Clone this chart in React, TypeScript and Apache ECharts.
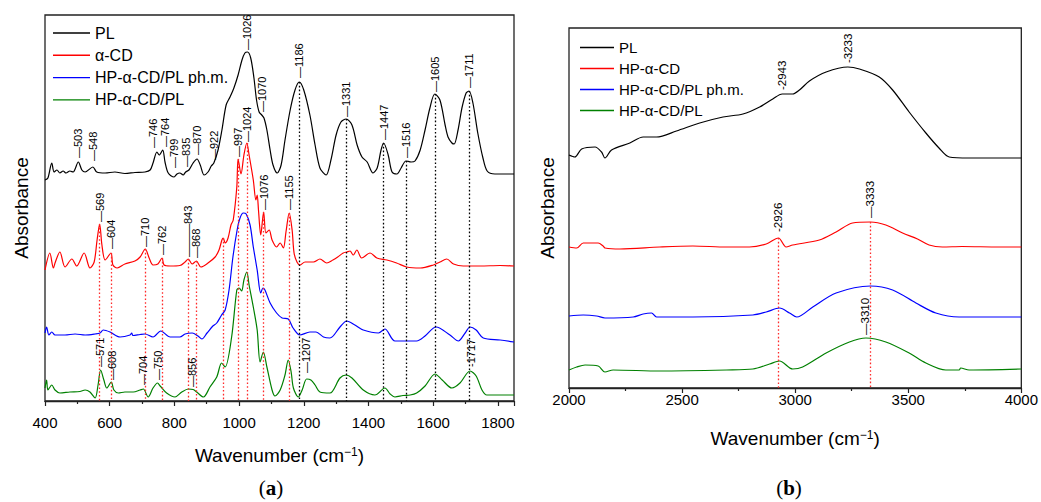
import { useEffect, useRef } from "react";
import * as echarts from "echarts";

// ---------- Panel (a): 400–1850 cm-1, absorbance in arbitrary offset units ----------
const plFingerprint: number[][] = [
  [400, 2.21], [409, 2.23], [421, 2.38], [428, 2.29], [437, 2.31], [446, 2.28], [456, 2.3], [465, 2.28],
  [477, 2.3], [487, 2.29], [503, 2.39], [514, 2.31], [524, 2.29], [548, 2.34], [560, 2.29], [586, 2.28],
  [616, 2.29], [647, 2.275], [678, 2.285], [709, 2.29], [725, 2.31], [734, 2.38], [746, 2.49], [753, 2.46],
  [764, 2.51], [771, 2.39], [781, 2.28], [799, 2.24], [808, 2.27], [817, 2.28], [827, 2.26], [835, 2.29],
  [845, 2.31], [858, 2.38], [870, 2.42], [880, 2.36], [892, 2.26], [904, 2.29], [914, 2.35], [922, 2.38],
  [935, 2.51], [947, 2.71], [960, 2.96], [972, 3.04], [984, 3.13], [997, 3.26], [1009, 3.41], [1018, 3.48],
  [1026, 3.49], [1036, 3.43], [1046, 3.23], [1054, 3.01], [1062, 2.89], [1070, 2.86], [1077, 2.83],
  [1086, 2.71], [1096, 2.51], [1105, 2.36], [1118, 2.28], [1130, 2.36], [1142, 2.61], [1158, 2.91],
  [1173, 3.11], [1186, 3.19], [1200, 3.11], [1219, 2.86], [1235, 2.56], [1250, 2.33], [1269, 2.26],
  [1284, 2.41], [1300, 2.66], [1315, 2.79], [1331, 2.82], [1349, 2.76], [1365, 2.56], [1380, 2.44],
  [1396, 2.39], [1414, 2.28], [1427, 2.33], [1439, 2.51], [1447, 2.58], [1461, 2.46], [1473, 2.29],
  [1488, 2.27], [1501, 2.33], [1516, 2.4], [1532, 2.39], [1544, 2.4], [1560, 2.51], [1575, 2.71],
  [1590, 2.93], [1605, 3.07], [1621, 3.01], [1637, 2.76], [1646, 2.64], [1658, 2.58], [1665, 2.57],
  [1677, 2.71], [1689, 2.93], [1702, 3.08], [1711, 3.1], [1723, 2.98], [1738, 2.68], [1754, 2.43],
  [1767, 2.3], [1791, 2.27], [1850, 2.27],
];

const alphaCdFingerprint: number[][] = [
  [400, 1.31], [415, 1.48], [426, 1.33], [431, 1.38], [446, 1.49], [462, 1.34], [483, 1.42], [498, 1.35],
  [521, 1.48], [539, 1.33], [552, 1.39], [561, 1.61], [569, 1.77], [576, 1.56], [586, 1.41], [604, 1.48],
  [610, 1.36], [623, 1.33], [647, 1.37], [678, 1.4], [694, 1.44], [710, 1.52], [722, 1.43], [734, 1.36],
  [749, 1.37], [762, 1.43], [768, 1.36], [787, 1.35], [817, 1.355], [833, 1.39], [843, 1.42], [855, 1.37],
  [868, 1.4], [882, 1.34], [904, 1.38], [926, 1.44], [938, 1.51], [947, 1.61], [951, 1.63], [957, 1.58],
  [966, 1.63], [975, 1.76], [982, 1.81], [993, 2.14], [997, 2.42], [1006, 2.27], [1015, 2.46],
  [1024, 2.58], [1031, 2.46], [1044, 2.21], [1052, 2.01], [1056, 2.06], [1060, 1.91], [1067, 1.66],
  [1076, 1.89], [1083, 1.68], [1093, 1.71], [1102, 1.61], [1116, 1.54], [1127, 1.58], [1137, 1.53],
  [1145, 1.69], [1155, 1.88], [1164, 1.71], [1170, 1.48], [1179, 1.39], [1188, 1.36], [1204, 1.39],
  [1230, 1.39], [1250, 1.42], [1271, 1.38], [1290, 1.41], [1305, 1.44], [1322, 1.48], [1333, 1.49],
  [1343, 1.5], [1353, 1.46], [1364, 1.51], [1379, 1.43], [1405, 1.48], [1426, 1.43], [1457, 1.41],
  [1487, 1.38], [1518, 1.34], [1560, 1.33], [1601, 1.36], [1621, 1.39], [1642, 1.42], [1663, 1.37],
  [1693, 1.35], [1745, 1.35], [1807, 1.355], [1850, 1.35],
];

const physMixFingerprint: number[][] = [
  [400, 0.68], [405, 0.74], [412, 0.66], [421, 0.69], [431, 0.66], [462, 0.66], [493, 0.67], [524, 0.66],
  [555, 0.67], [570, 0.68], [580, 0.71], [601, 0.69], [632, 0.64], [663, 0.66], [668, 0.68], [672, 0.655],
  [694, 0.665], [709, 0.67], [734, 0.64], [758, 0.7], [787, 0.64], [817, 0.64], [833, 0.67], [855, 0.68],
  [873, 0.65], [885, 0.62], [901, 0.68], [919, 0.75], [931, 0.78], [946, 0.86], [957, 0.91], [969, 1.11],
  [981, 1.44], [994, 1.71], [1003, 1.83], [1013, 1.88], [1022, 1.87], [1034, 1.76], [1044, 1.54],
  [1056, 1.31], [1067, 1.08], [1074, 1.13], [1080, 1.11], [1096, 0.98], [1116, 0.88], [1133, 0.83],
  [1152, 0.82], [1167, 0.73], [1188, 0.66], [1219, 0.69], [1238, 0.69], [1261, 0.64], [1281, 0.63],
  [1312, 0.74], [1333, 0.8], [1358, 0.76], [1384, 0.71], [1431, 0.68], [1451, 0.72], [1482, 0.6],
  [1549, 0.6], [1575, 0.65], [1609, 0.74], [1652, 0.66], [1678, 0.6], [1699, 0.68], [1714, 0.74],
  [1733, 0.71], [1755, 0.63], [1807, 0.61], [1850, 0.59],
];

const complexFingerprint: number[][] = [
  [400, 0.13], [405, 0.21], [409, 0.11], [421, 0.16], [431, 0.11], [446, 0.08], [477, 0.09], [508, 0.095],
  [524, 0.11], [539, 0.09], [555, 0.03], [564, 0.16], [572, 0.31], [582, 0.21], [591, 0.13], [605, 0.19],
  [613, 0.11], [627, 0.08], [647, 0.09], [673, 0.09], [694, 0.11], [704, 0.12], [719, 0.04], [734, 0.13],
  [748, 0.18], [756, 0.15], [776, 0.08], [802, 0.04], [823, 0.09], [843, 0.12], [858, 0.115], [869, 0.09],
  [890, 0.04], [910, 0.14], [931, 0.24], [946, 0.38], [957, 0.34], [977, 0.64], [993, 1.11], [1000, 1.13],
  [1008, 1.1], [1015, 1.21], [1024, 1.29], [1031, 1.16], [1044, 0.94], [1056, 0.71], [1065, 0.39],
  [1075, 0.49], [1086, 0.34], [1102, 0.11], [1111, 0.05], [1127, 0.11], [1142, 0.26], [1152, 0.41],
  [1161, 0.29], [1168, 0.13], [1183, 0.04], [1195, 0.11], [1209, 0.22], [1222, 0.21], [1235, 0.16],
  [1250, 0.09], [1281, 0.08], [1312, 0.23], [1331, 0.26], [1349, 0.23], [1384, 0.11], [1420, 0.06],
  [1451, 0.13], [1467, 0.07], [1482, 0.04], [1507, 0.055], [1529, 0.06], [1549, 0.08], [1575, 0.15],
  [1606, 0.27], [1628, 0.21], [1658, 0.13], [1683, 0.18], [1714, 0.3], [1733, 0.25], [1751, 0.11],
  [1766, 0.06], [1850, 0.06],
];

// Dotted guide lines: [wavenumber, absorbance at the top of the guide]
const plGuides: number[][] = [[1186, 3.19], [1331, 2.82], [1447, 2.58], [1516, 2.4], [1605, 3.07], [1711, 3.1]];
const cdGuides: number[][] = [
  [569, 1.77], [604, 1.48], [710, 1.52], [762, 1.43], [843, 1.42], [868, 1.4], [951, 1.63],
  [997, 2.42], [1024, 2.58], [1076, 1.89], [1155, 1.88],
];

// Band labels: [wavenumber, absorbance at the label foot, text]
const plBands: (number | string)[][] = [
  [503, 2.43, "—503"], [548, 2.4, "—548"], [746, 2.53, "—746"], [764, 2.54, "—764"], [799, 2.33, "—799"],
  [835, 2.34, "—835"], [870, 2.46, "—870"], [922, 2.41, "—922"], [1026, 3.51, "—1026"], [1070, 2.89, "—1070"],
  [1186, 3.23, "—1186"], [1331, 2.84, "—1331"], [1447, 2.61, "—1447"], [1516, 2.43, "—1516"],
  [1605, 3.09, "—1605"], [1711, 3.13, "—1711"],
];
const cdBands: (number | string)[][] = [
  [569, 1.79, "—569"], [604, 1.52, "—604"], [710, 1.54, "—710"], [762, 1.46, "—762"], [843, 1.44, "———843"],
  [868, 1.43, "—868"], [997, 2.44, "—997"], [1024, 2.59, "—1024"], [1076, 1.91, "—1076"], [1155, 1.91, "—1155"],
];
const complexBands: (number | string)[][] = [
  [571, 0.34, "—571"], [608, 0.21, "—608"], [704, 0.16, "—704"], [750, 0.21, "—750"], [856, 0.14, "—856"],
  [1207, 0.28, "—1207"], [1717, 0.34, "-1717"],
];

// ---------- Panel (b): 2000–4000 cm-1 ----------
const plHighRange: number[][] = [
  [2000, 2.33], [2026, 2.31], [2056, 2.39], [2115, 2.41], [2144, 2.36], [2159, 2.3], [2188, 2.38],
  [2269, 2.45], [2328, 2.51], [2357, 2.51], [2387, 2.51], [2475, 2.57], [2578, 2.65], [2681, 2.71],
  [2769, 2.74], [2843, 2.81], [2901, 2.89], [2943, 2.94], [2989, 2.94], [3019, 2.98], [3063, 3.07],
  [3137, 3.16], [3233, 3.21], [3284, 3.19], [3372, 3.11], [3431, 2.98], [3504, 2.76], [3578, 2.55],
  [3636, 2.4], [3681, 2.31], [3769, 2.3], [3901, 2.3], [4000, 2.3],
];
const hpCdHighRange: number[][] = [
  [2000, 1.41], [2034, 1.4], [2063, 1.45], [2129, 1.45], [2151, 1.42], [2159, 1.4], [2225, 1.39],
  [2401, 1.41], [2548, 1.42], [2696, 1.41], [2798, 1.41], [2872, 1.44], [2926, 1.5], [2960, 1.41],
  [2989, 1.43], [3107, 1.48], [3181, 1.56], [3254, 1.65], [3333, 1.66], [3401, 1.63], [3475, 1.55],
  [3541, 1.49], [3592, 1.43], [3651, 1.41], [3738, 1.415], [3901, 1.41], [4000, 1.41],
];
const physMixHighRange: number[][] = [
  [2000, 0.72], [2063, 0.73], [2122, 0.72], [2159, 0.7], [2284, 0.71], [2328, 0.74], [2365, 0.75],
  [2387, 0.71], [2548, 0.71], [2813, 0.73], [2872, 0.76], [2931, 0.8], [2975, 0.75], [3007, 0.71],
  [3078, 0.81], [3181, 0.95], [3333, 1.02], [3431, 0.98], [3534, 0.85], [3622, 0.75], [3725, 0.71],
  [3857, 0.71], [4000, 0.71],
];
const complexHighRange: number[][] = [
  [2000, 0.18], [2034, 0.21], [2071, 0.23], [2129, 0.22], [2159, 0.16], [2195, 0.18], [2401, 0.17],
  [2696, 0.18], [2813, 0.19], [2887, 0.24], [2931, 0.27], [2989, 0.19], [3033, 0.21], [3137, 0.35],
  [3240, 0.46], [3313, 0.5], [3401, 0.46], [3504, 0.35], [3578, 0.25], [3666, 0.18], [3725, 0.18],
  [3732, 0.2], [3769, 0.18], [4000, 0.19],
];
const hpCdGuides: number[][] = [[2926, 1.5], [3333, 1.66]];
const highBands: (number | string)[][] = [
  [2943, 2.98, "-2943"], [3233, 3.25, "-3233"], [2926, 1.56, "-2926"], [3333, 1.7, "—3333"], [3310, 0.53, "—3310"],
];

const legendNamesA = ["PL", "α-CD", "HP-α-CD/PL ph.m.", "HP-α-CD/PL"];
const legendNamesB = ["PL", "HP-α-CD", "HP-α-CD/PL ph.m.", "HP-α-CD/PL"];

const FONT = '"Liberation Sans", Arial, sans-serif';
const AXIS_COLOR = "#222";
const BLACK = "#000000";
const RED = "#ff0000";
const BLUE = "#0000ff";
const GREEN = "#008000";

// sideways nudges (px) for crowded labels; the labels are rotated, so the shift sits in offset[1]
const labelNudge: Record<string, number> = { "—746": -4, "—764": 2 };

function spectrum(name: string, data: number[][], color: string, idx: number, guides?: number[][], guideColor?: string) {
  const s: any = {
    type: "line",
    name,
    data,
    xAxisIndex: idx,
    yAxisIndex: idx,
    symbol: "none",
    showSymbol: false,
    smooth: 0.3,
    lineStyle: { color, width: 1.2 },
    itemStyle: { color },
    silent: true,
    z: 3,
  };
  if (guides) {
    s.markLine = {
      silent: true,
      symbol: ["none", "none"],
      label: { show: false },
      lineStyle: { color: guideColor, type: [1.6, 2.2], width: 1.3 },
      data: guides.map(([wn, top]) => [{ coord: [wn, top] }, { coord: [wn, 0] }]),
    };
  }
  return s;
}

function bandLabels(items: (number | string)[][], idx: number, fontSize: number) {
  return {
    type: "scatter",
    xAxisIndex: idx,
    yAxisIndex: idx,
    symbolSize: 1,
    itemStyle: { color: "rgba(0,0,0,0)" },
    silent: true,
    z: 6,
    data: items.map(([wn, y, text]) => ({
      value: [wn, y],
      name: text as string,
      label: labelNudge[text as string] ? { offset: [0, labelNudge[text as string]] } : undefined,
    })),
    label: {
      show: true,
      formatter: (p: any) => p.name,
      rotate: 90,
      position: "inside",
      align: "left",
      verticalAlign: "middle",
      color: "#000",
      opacity: 1,
      textBorderWidth: 0,
      textShadowBlur: 0,
      fontSize,
      fontFamily: FONT,
    },
  };
}

function xAxis(idx: number, min: number, max: number, interval: number, margin: number, nameGap: number, showMax: boolean) {
  return {
    type: "value",
    gridIndex: idx,
    min,
    max,
    interval,
    axisLine: { show: true, lineStyle: { color: AXIS_COLOR, width: 1.3 } },
    axisTick: { show: true, length: 5, lineStyle: { color: AXIS_COLOR, width: 1.2 } },
    minorTick: { show: true, splitNumber: 2, length: 3, lineStyle: { color: AXIS_COLOR, width: 1.2 } },
    axisLabel: {
      fontSize: 15,
      color: "#000",
      margin,
      fontFamily: FONT,
      showMaxLabel: showMax,
      formatter: (v: number) => String(v),
    },
    splitLine: { show: false },
    minorSplitLine: { show: false },
    name: "{n|Wavenumber (cm}{s|−1}{n|)}",
    nameLocation: "middle",
    nameGap,
    nameTextStyle: {
      rich: {
        n: { fontSize: 19, color: "#000", fontFamily: FONT },
        s: { fontSize: 12, color: "#000", fontFamily: FONT, verticalAlign: "top" },
      },
    },
  };
}

function yAxis(idx: number, max: number, nameGap: number) {
  return {
    type: "value",
    gridIndex: idx,
    min: 0,
    max,
    axisLine: { show: false },
    axisTick: { show: false },
    axisLabel: { show: false },
    splitLine: { show: false },
    name: "Absorbance",
    nameLocation: "middle",
    nameRotate: 90,
    nameGap,
    nameTextStyle: { fontSize: 19, color: "#000", fontFamily: FONT },
  };
}

function caption(text: string, x: number) {
  return {
    type: "text",
    x,
    y: 488,
    style: {
      text: `{p|(}{b|${text}}{p|)}`,
      align: "center",
      verticalAlign: "middle",
      rich: {
        p: { fontSize: 21, fontFamily: '"Liberation Serif", serif', fill: "#000" },
        b: { fontSize: 21, fontWeight: "bold", fontFamily: '"Liberation Serif", serif', fill: "#000" },
      },
    },
  };
}

const legendBase = {
  orient: "vertical",
  icon: "rect",
  itemHeight: 1.4,
  selectedMode: false,
};

const option: any = {
  animation: false,
  backgroundColor: "#fff",
  textStyle: { fontFamily: FONT },
  grid: [
    { left: 45, top: 15, width: 469, height: 386, show: true, borderColor: AXIS_COLOR, borderWidth: 1.3 },
    { left: 569, top: 28, width: 454, height: 360, show: true, borderColor: AXIS_COLOR, borderWidth: 1.3 },
  ],
  xAxis: [xAxis(0, 400, 1850, 200, 14, 45, false), xAxis(1, 2000, 4000, 500, 4, 41, true)],
  yAxis: [yAxis(0, 3.86, 14), yAxis(1, 3.6, 12)],
  legend: [
    {
      ...legendBase,
      data: legendNamesA,
      left: 48,
      top: 20,
      itemWidth: 37,
      itemGap: 6.3,
      textStyle: { fontSize: 16, lineHeight: 16, color: "#000", fontFamily: FONT },
    },
    {
      ...legendBase,
      data: legendNamesB,
      left: 575,
      top: 35,
      itemWidth: 34,
      itemGap: 6,
      textStyle: { fontSize: 15, lineHeight: 15, color: "#000", fontFamily: FONT },
    },
  ],
  series: [
    spectrum("PL", plFingerprint, BLACK, 0, plGuides, BLACK),
    spectrum("α-CD", alphaCdFingerprint, RED, 0, cdGuides, "#ff2a2a"),
    spectrum("HP-α-CD/PL ph.m.", physMixFingerprint, BLUE, 0),
    spectrum("HP-α-CD/PL", complexFingerprint, GREEN, 0),
    bandLabels(plBands, 0, 11),
    bandLabels(cdBands, 0, 11),
    bandLabels(complexBands, 0, 11),
    spectrum("PL", plHighRange, BLACK, 1),
    spectrum("HP-α-CD", hpCdHighRange, RED, 1, hpCdGuides, "#ff2a2a"),
    spectrum("HP-α-CD/PL ph.m.", physMixHighRange, BLUE, 1),
    spectrum("HP-α-CD/PL", complexHighRange, GREEN, 1),
    bandLabels(highBands, 1, 11.5),
  ],
  graphic: [caption("a", 271), caption("b", 789)],
};

export default function App() {
  const ref = useRef<HTMLDivElement>(null);
  useEffect(() => {
    const chart = echarts.init(ref.current!, null, { renderer: "svg" });
    chart.setOption(option);
    return () => chart.dispose();
  }, []);
  return <div ref={ref} style={{ position: "absolute", left: 0, top: 0, width: 1041, height: 502 }} />;
}
